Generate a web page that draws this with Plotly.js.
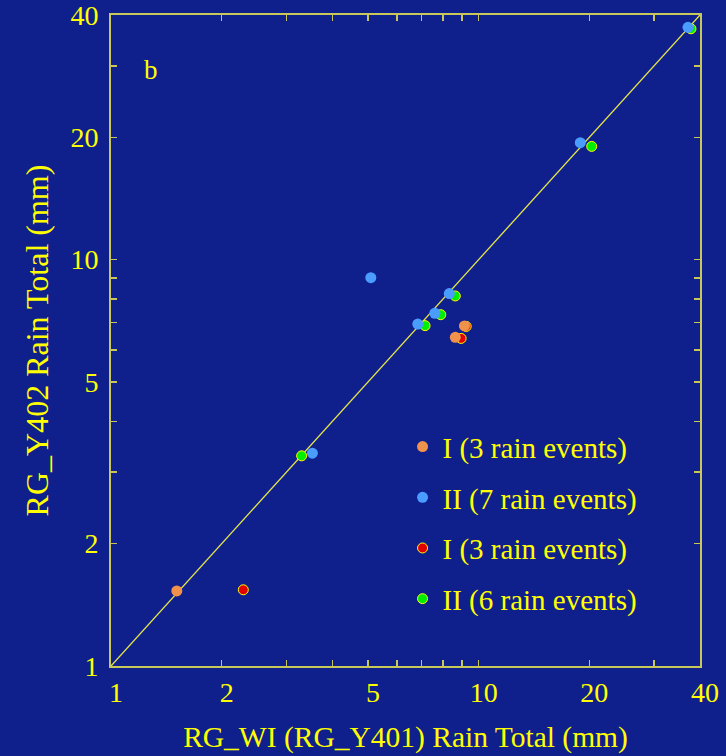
<!DOCTYPE html>
<html>
<head>
<meta charset="utf-8">
<script src="https://cdn.plot.ly/plotly-3.0.1.min.js"></script>
<style>html,body{margin:0;padding:0;background:#0f1f8c;}#chart{width:726px;height:756px;}</style>
</head>
<body>
<div id="chart"></div>
<script>
// Data (mm)
const orangeX = [1.51, 9.15, 8.64];
const orangeY = [1.53, 6.87, 6.44];
const blueX = [37.1, 18.9, 5.09, 8.32, 7.60, 6.83, 3.53];
const blueY = [37.3, 19.4, 9.03, 8.25, 7.38, 6.94, 3.34];
const redX = [2.29, 8.96, 9.25];
const redY = [1.54, 6.40, 6.85];
const greenX = [37.8, 20.3, 8.64, 7.89, 7.15, 3.30];
const greenY = [37.0, 19.0, 8.14, 7.32, 6.88, 3.29];
const lineX = [1, 40];
const lineY = [1, 40];
const tickVals = [1,2,3,4,5,6,7,8,9,10,20,30,40];
const tickText = ['1','2','','','5','','','','','10','20','','40'];
const majorVals = [10];

const YEL = '#ffff00';
const FRAME = '#c8c85a';
const BG = '#0f1f8c';
const FONT = 'Liberation Serif, Times New Roman, serif';

const traces = [
  {x: lineX, y: lineY, mode: 'lines', line: {color: '#e4e44a', width: 1.3}, showlegend: false, hoverinfo: 'skip'},
  {x: greenX, y: greenY, mode: 'markers', name: 'II (6 rain events)', legendrank: 4, legendgroup: 'g4',
   marker: {color: '#00ee00', size: 10, line: {color: '#ffff00', width: 1}}},
  {x: redX, y: redY, mode: 'markers', name: 'I (3 rain events)', legendrank: 3, legendgroup: 'g3',
   marker: {color: '#e00000', size: 10, line: {color: '#ffff00', width: 1}}},
  {x: blueX, y: blueY, mode: 'markers', name: 'II (7 rain events)', legendrank: 2, legendgroup: 'g2',
   marker: {color: '#4a9cff', size: 11}},
  {x: orangeX, y: orangeY, mode: 'markers', name: 'I (3 rain events)', legendrank: 1, legendgroup: 'g1',
   marker: {color: '#f0924c', size: 11}}
];

const axBase = {
  type: 'log', showgrid: false, zeroline: false,
  showline: true, linecolor: FRAME, linewidth: 2, mirror: 'ticks',
  ticks: 'inside', ticklen: 6, tickwidth: 1.5, tickcolor: FRAME,
  tickmode: 'array', tickvals: tickVals, ticktext: tickText,
  ticklabeloverflow: 'allow',
  tickfont: {family: FONT, size: 28, color: YEL}
};

const layout = {
  width: 726, height: 756,
  paper_bgcolor: BG, plot_bgcolor: BG,
  margin: {l: 111, r: 26, t: 15, b: 90},
  font: {family: FONT, color: YEL},
  xaxis: Object.assign({}, axBase, {range: [0, Math.log10(40)], ticklabelstandoff: 0, ticklabelshift: 5,
    title: {text: 'RG_WI (RG_Y401) Rain Total (mm)', font: {family: FONT, size: 29.5, color: YEL}, standoff: 20}}),
  yaxis: Object.assign({}, axBase, {range: [0, Math.log10(40)], ticklabelstandoff: 5,
    title: {text: 'RG_Y402 Rain Total (mm)', font: {family: FONT, size: 32, color: YEL}, standoff: 12}}),
  xaxis2: {type: 'log', range: [0, Math.log10(40)], overlaying: 'x', anchor: 'y', side: 'bottom',
    showgrid: false, zeroline: false, showline: false, mirror: 'ticks', ticks: 'inside', ticklen: 12,
    tickwidth: 1.5, tickcolor: FRAME, tickmode: 'array', tickvals: majorVals, showticklabels: false},
  yaxis2: {type: 'log', range: [0, Math.log10(40)], overlaying: 'y', anchor: 'x', side: 'left',
    showgrid: false, zeroline: false, showline: false, mirror: 'ticks', ticks: 'inside', ticklen: 12,
    tickwidth: 1.5, tickcolor: FRAME, tickmode: 'array', tickvals: majorVals, showticklabels: false},
  showlegend: true,
  legend: {x: 0.495, y: 0.376, xanchor: 'left', yanchor: 'top', bgcolor: 'rgba(0,0,0,0)',
    font: {family: FONT, size: 29, color: YEL}, tracegroupgap: 10, itemclick: false},
  annotations: [{text: 'b', xref: 'paper', yref: 'paper', x: 0.068, y: 0.915, showarrow: false,
    xanchor: 'center', yanchor: 'middle', font: {family: FONT, size: 27, color: YEL}}]
};

Plotly.newPlot('chart', traces, layout, {displayModeBar: false, staticPlot: true});
</script>
</body>
</html>
